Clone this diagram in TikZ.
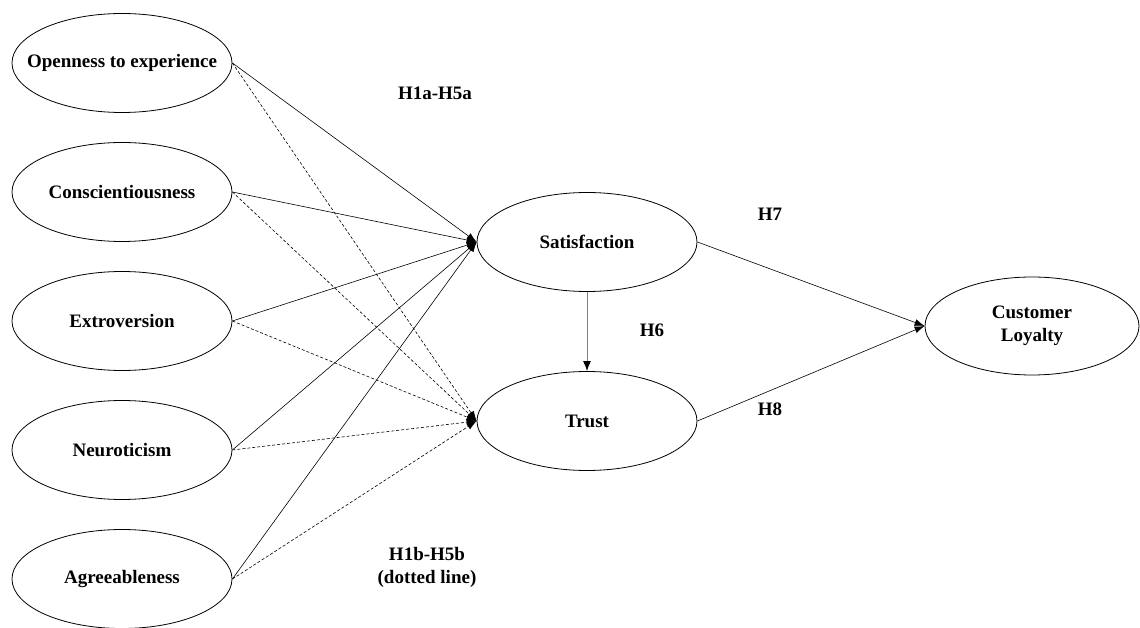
\documentclass[tikz,border=0pt]{standalone}
\usepackage{fontspec}
\setmainfont{Liberation Serif}
\usepackage{tikz}
\usetikzlibrary{arrows.meta,positioning,shapes.geometric}

\tikzset{
  trait/.style = {ellipse, draw, thick, minimum width=220pt, minimum height=99pt, inner sep=0pt, font=\fontsize{19}{21}\selectfont\bfseries},
  hyp/.style = {font=\fontsize{19}{21}\selectfont\bfseries, align=center},
  path a/.style = {-{Latex[length=10pt,width=7pt]}, line width=0.6pt},
  path b/.style = {path a, dash pattern=on 3pt off 2pt}
}

\begin{document}
\begin{tikzpicture}[x=1pt, y=1pt, node distance = 129pt]
\useasboundingbox (0,0) rectangle (1140,627);

\node[trait] (open) at (122,564) {\makebox[0pt]{Openness to experience}};
\node[trait] (consc) [below of = open] {Conscientiousness};
\node[trait] (extro) [below of = consc] {Extroversion};
\node[trait] (neuro) [below of = extro] {Neuroticism};
\node[trait] (agree) [below of = neuro] {Agreeableness};

\node[trait] (sat) at (587,385) {Satisfaction};
\node[trait] (trust) at (587,206) {Trust};
\node[trait, minimum width=214pt, minimum height=98pt, align=center] (loyal) at (1032,301) {Customer\\[2pt]Loyalty};

% H1a-H5a and H1b-H5b
\foreach \t in {open,consc,extro,neuro,agree} {
  \draw[path a] (\t.east) -- (sat.west);
  \draw[path b] (\t.east) -- (trust.west);
}

\draw[-{Latex[length=10pt,width=8pt,black]}, draw=gray, line width=1pt] (sat.south) -- (trust.north);
\draw[path a] (sat.east) -- (loyal.west);
\draw[path a] (trust.east) -- (loyal.west);

\node[hyp] (h1a) at (435,534) {H1a-H5a};
\node[hyp] (h1b) at (427,60) {H1b-H5b\\[2pt](dotted line)};
\node[hyp] (h6) at (652,297) {H6};
\node[hyp] (h7) at (770,413) {H7};
\node[hyp] (h8) at (770,218) {H8};
\end{tikzpicture}
\end{document}
